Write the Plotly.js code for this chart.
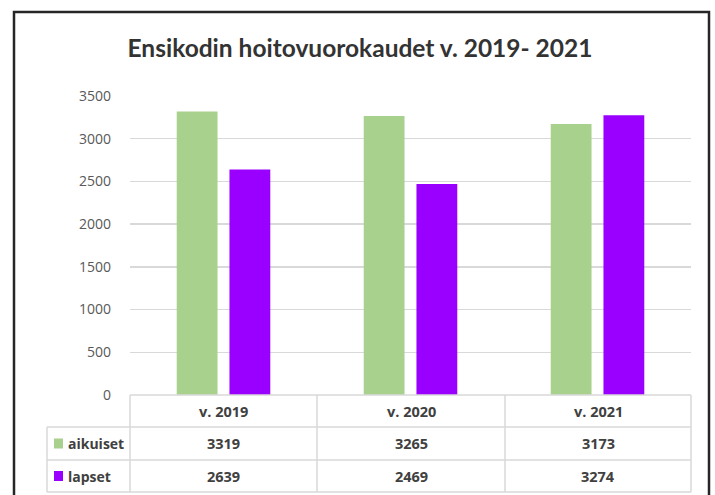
<!DOCTYPE html>
<html>
<head>
<meta charset="utf-8">
<script src="https://cdn.plot.ly/plotly-3.0.1.min.js"></script>
<style>html,body{margin:0;padding:0;background:#fff;}#chart{width:715px;height:495px;}</style>
</head>
<body>
<div id="chart"></div>
<script>
const categories = ["v. 2019", "v. 2020", "v. 2021"];
const seriesNames = ["aikuiset", "lapset"];
const aikuiset = [3319, 3265, 3173];
const lapset = [2639, 2469, 3274];
const seriesValues = [aikuiset, lapset];
const colors = ["#a9d18e", "#9900ff"];

const W = 715, H = 495;
const L = 130, R = 24, T = 96, B = 100;
const pw = W - L - R, ph = H - T - B;
const px = x => (x - L) / pw;
const py = y => (H - B - y) / ph;

const traces = seriesNames.map((n, i) => ({
  type: 'bar', name: n, x: categories, y: seriesValues[i],
  marker: {color: colors[i]}, hoverinfo: 'x+y'
}));

const grid = '#d9d9d9';
const shapes = [];
const line = (x0, y0, x1, y1, color, w) => shapes.push({type: 'line', xref: 'paper', yref: 'paper',
  x0: px(x0), y0: py(y0), x1: px(x1), y1: py(y1), line: {color: color || grid, width: w || 1.5}});
const rowY = [395, 427, 460, 492];
const colX = [47, 130, 317, 505, 691];
line(130, 395, 691, 395);
line(47, 427, 691, 427);
line(47, 460, 691, 460);
line(47, 492, 691, 492);
line(47, 427, 47, 492);
for (let k = 1; k < colX.length; k++) line(colX[k], 395, colX[k], 492);
shapes.push({type: 'rect', xref: 'paper', yref: 'paper', x0: px(14), x1: px(709), y0: py(12), y1: py(520),
  line: {color: '#262626', width: 2.5}, fillcolor: 'rgba(0,0,0,0)'});

const annotations = [];
const tf = {family: 'Open Sans, sans-serif', size: 14.5, color: '#404040', weight: 'bold'};
categories.forEach((c, j) => {
  const cx = (colX[j + 1] + colX[j + 2]) / 2;
  annotations.push({xref: 'paper', yref: 'paper', x: px(cx), y: py((rowY[0] + rowY[1]) / 2),
    text: '<b>' + c + '</b>', showarrow: false, font: tf, xanchor: 'center', yanchor: 'middle'});
  seriesValues.forEach((vals, i) => {
    annotations.push({xref: 'paper', yref: 'paper', x: px(cx), y: py((rowY[i + 1] + rowY[i + 2]) / 2),
      text: '<b>' + vals[j] + '</b>', showarrow: false, font: tf, xanchor: 'center', yanchor: 'middle'});
  });
});
seriesNames.forEach((n, i) => {
  const cy = (rowY[i + 1] + rowY[i + 2]) / 2;
  shapes.push({type: 'rect', xref: 'paper', yref: 'paper', x0: px(54), x1: px(63), y0: py(cy - 5), y1: py(cy + 5),
    fillcolor: colors[i], line: {width: 0}});
  annotations.push({xref: 'paper', yref: 'paper', x: px(66), y: py(cy), text: '<b>' + n + '</b>',
    showarrow: false, font: Object.assign({}, tf, {size: 14}), xanchor: 'left', yanchor: 'middle'});
});

const layout = {
  width: W, height: H,
  margin: {l: L, r: R, t: T, b: B, pad: 0},
  paper_bgcolor: '#ffffff', plot_bgcolor: '#ffffff',
  title: {text: '<b>Ensikodin hoitovuorokaudet v. 2019- 2021</b>', x: 360 / W, xanchor: 'center', xref: 'container', y: 1 - 48 / H, yanchor: 'middle',
    font: {family: 'Lato, sans-serif', size: 24.5, color: '#333333'}},
  showlegend: false,
  barmode: 'group', bargap: 0.436, bargroupgap: 0.226,
  xaxis: {showticklabels: false, showgrid: false, zeroline: false, showline: false, ticks: ''},
  yaxis: {range: [0, 3500], dtick: 500, tick0: 0, showgrid: true, gridcolor: grid, gridwidth: 1.5,
    zeroline: false, showline: false, ticks: '', ticklabelstandoff: 18,
    tickfont: {family: 'Open Sans, sans-serif', size: 14, color: '#595959'}},
  shapes: shapes, annotations: annotations
};
Plotly.newPlot('chart', traces, layout, {displayModeBar: false, staticPlot: true});
</script>
</body>
</html>
